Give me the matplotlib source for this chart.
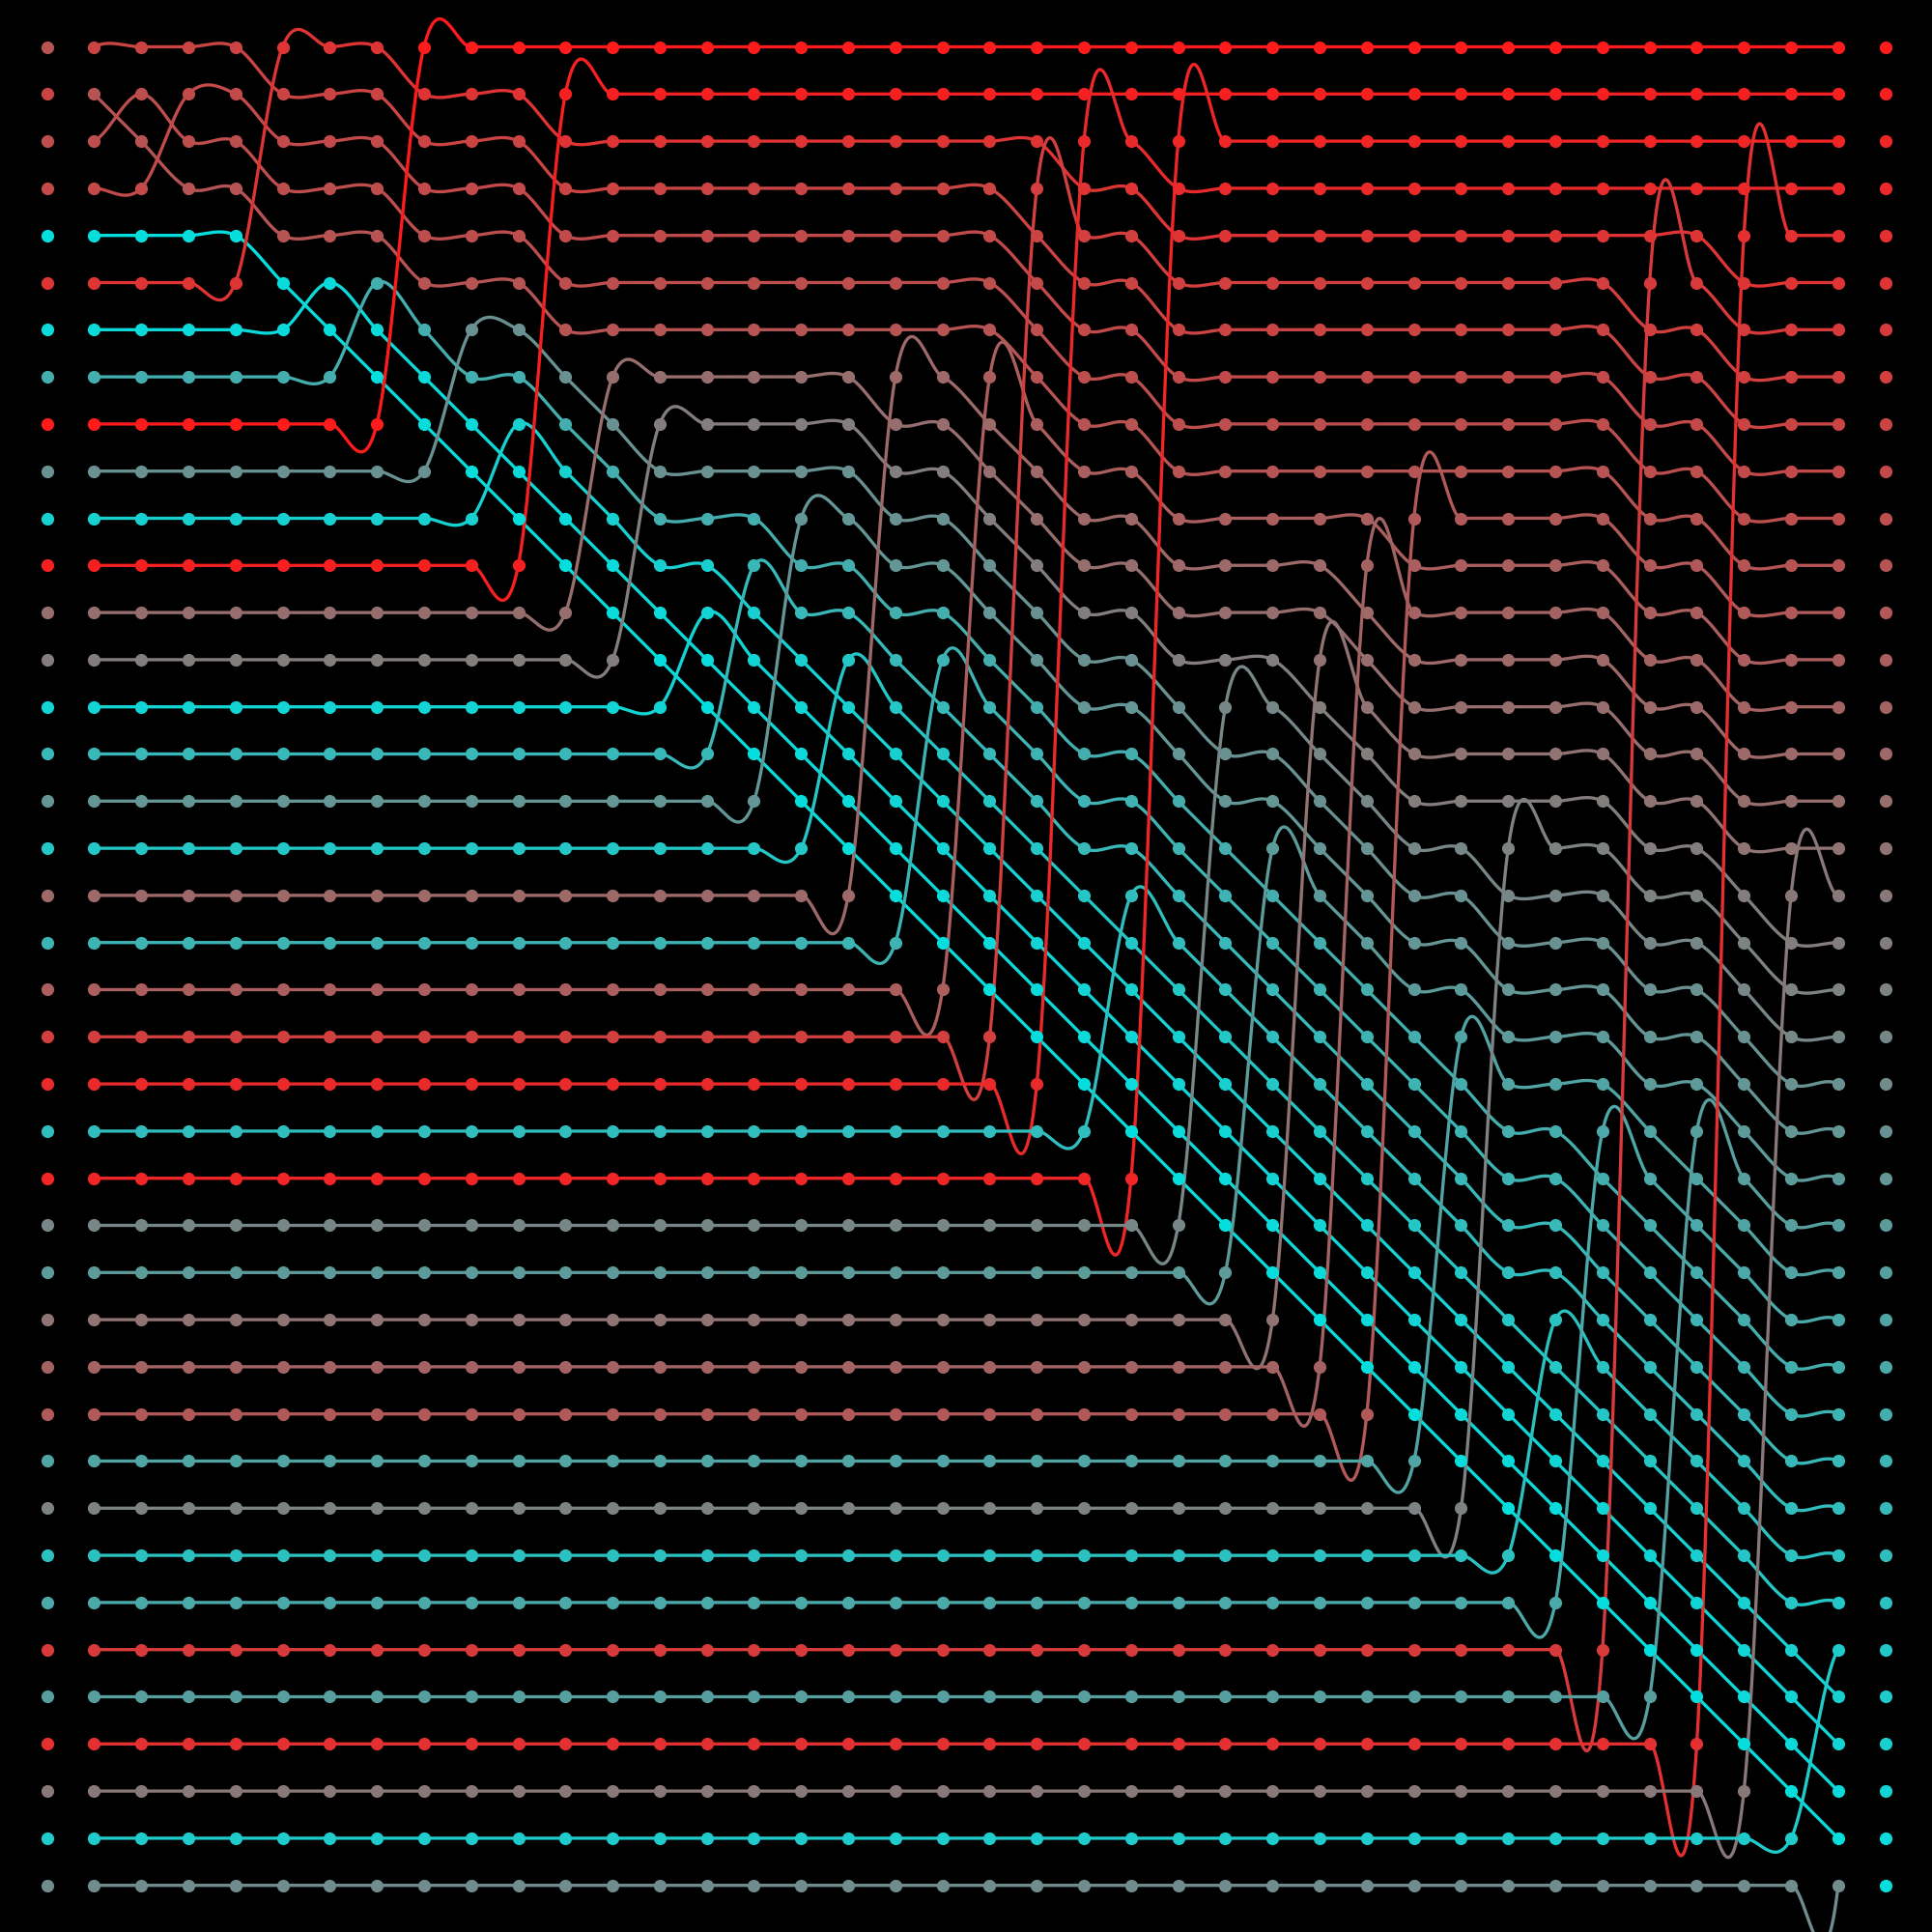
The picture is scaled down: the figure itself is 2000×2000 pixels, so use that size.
import numpy as np
import matplotlib.pyplot as plt
from matplotlib.colors import LinearSegmentedColormap

# value of each item in its starting order (0 = lowest / cyan, 39 = highest / red)
values = [28, 31, 29, 30, 0, 34, 1, 10, 39, 16, 3, 38, 23, 20, 2, 8, 15, 5, 24, 9,
          26, 32, 36, 7, 37, 18, 14, 22, 25, 27, 12, 19, 6, 11, 33, 13, 35, 21, 4, 17]
palette = ['#06dede', '#808080', '#fd1b1b']

n = len(values)
cmap = LinearSegmentedColormap.from_list('cg_r', palette)

# insertion sort, descending; keep the order after every step
order = list(range(n))
states = [order[:]]
for k in range(1, n):
    item = order[k]
    prefix = order[:k]
    pos = sum(values[j] > values[item] for j in prefix)
    order = prefix[:pos] + [item] + prefix[pos:] + order[k + 1:]
    states.append(order[:])

# row of every item at every step
rows = np.zeros((n, n))
for c, st in enumerate(states):
    for r, item in enumerate(st):
        rows[item, c] = r


def catmull_rom(p, first, last, steps=40):
    p = np.asarray(p, float)
    ext = np.concatenate([[p[0]], p, [p[-1]]])
    t = np.linspace(0, 1, steps)
    xs, ys = [], []
    for i in range(first, last):
        p0, p1, p2, p3 = ext[i], ext[i + 1], ext[i + 2], ext[i + 3]
        m1 = (p2 - p0) / 2
        m2 = (p3 - p1) / 2
        y = ((2 * t**3 - 3 * t**2 + 1) * p1 + (t**3 - 2 * t**2 + t) * m1
             + (-2 * t**3 + 3 * t**2) * p2 + (t**3 - t**2) * m2)
        xs.append(i + t)
        ys.append(y)
    return np.concatenate(xs), np.concatenate(ys)


fig = plt.figure(figsize=(20, 20), dpi=100, facecolor='black')
ax = fig.add_axes([0, 0, 1, 1])
ax.set_facecolor('black')

cols = np.arange(n)
for item in range(n):
    color = cmap(values[item] / (n - 1))
    x, y = catmull_rom(rows[item], 1, n - 2)
    ax.plot(x, y, color=color, lw=2.4, solid_capstyle='round', zorder=2)
    ax.plot(cols[1:n - 1], rows[item, 1:n - 1], 'o', color=color, ms=9.5,
            mec='none', zorder=3)

# first and last columns: start order and sorted order
for item in range(n):
    color = cmap(values[item] / (n - 1))
    ax.plot(0, rows[item, 0], 'o', color=color, ms=9.5, mec='none', zorder=3)
    ax.plot(n - 1, rows[item, n - 1], 'o', color=color, ms=9.5, mec='none', zorder=3)

ax.set_xlim(-0.994, n - 0.01)
ax.set_ylim(n - 0.01, -0.994)
ax.axis('off')

fig.savefig('out.png', dpi=100, facecolor='black')
